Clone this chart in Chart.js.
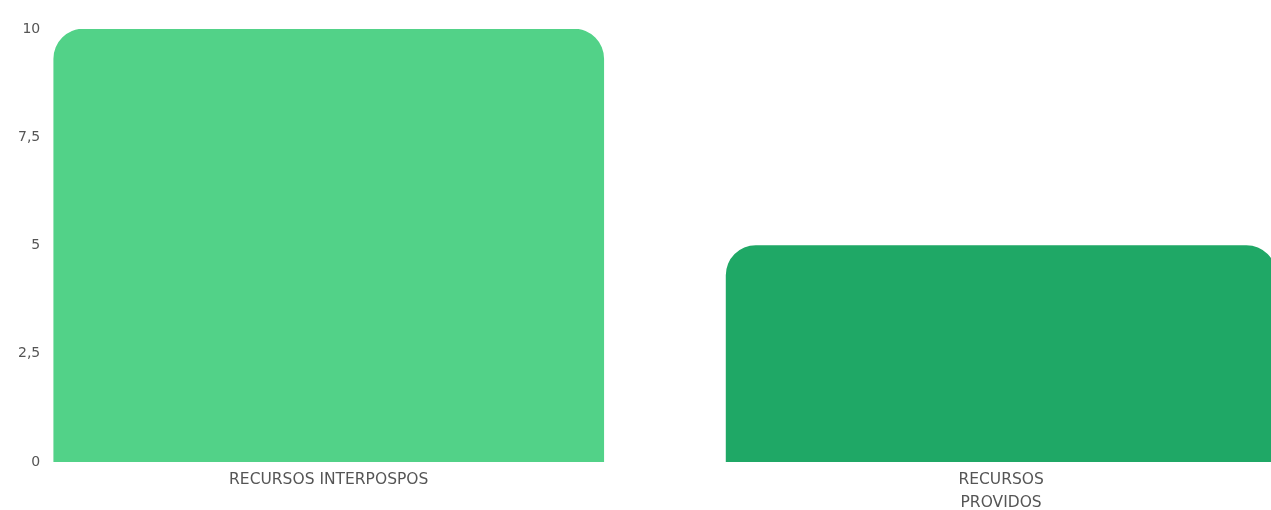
<!DOCTYPE html>
<html><head><meta charset="utf-8">
<script src="https://cdn.jsdelivr.net/npm/chart.js@4"></script>
<style>html,body{margin:0;padding:0;background:#fff;overflow:hidden}#wrap{width:1271px;height:510px}</style>
</head><body><div id="wrap"><canvas id="c"></canvas></div>
<script>
const categories = [["RECURSOS INTERPOSPOS"], ["RECURSOS", "PROVIDOS"]];
const values = [10, 5];
const barColors = ["#52d288", "#1fa866"];
const yTicks = [0, 2.5, 5, 7.5, 10];

const points = values.map((v, i) => ({x: i, y: v}));
new Chart(document.getElementById('c'), {
  type: 'bar',
  data: { datasets: [{ data: points, backgroundColor: barColors, borderWidth: 0,
    borderRadius: {topLeft: 30, topRight: 30, bottomLeft: 0, bottomRight: 0}, borderSkipped: 'bottom',
    barThickness: 550 }] },
  options: {
    responsive: true, maintainAspectRatio: false, animation: false,
    layout: { padding: { top: 29, right: 0, left: 6, bottom: 0 } },
    plugins: { legend: { display: false }, tooltip: { enabled: false } },
    scales: {
      x: { type: 'linear', min: -0.4112, max: 1.4014, offset: false,
        grid: { display: false, drawTicks: false, tickLength: 0 }, border: { display: false },
        afterBuildTicks: s => { s.ticks = categories.map((c, i) => ({value: i})); },
        afterFit: s => { s.paddingLeft = 0; s.paddingRight = 0; s.height = 48; },
        ticks: { color: '#555', font: { family: 'DejaVu Sans', size: 15.5, lineHeight: 1.5 }, padding: 6, maxRotation: 0, autoSkip: false,
          callback: v => categories[v] }
      },
      y: { min: 0, max: 10,
        grid: { display: false, drawTicks: false, tickLength: 0 }, border: { display: false },
        afterBuildTicks: s => { s.ticks = yTicks.map(v => ({value: v})); },
        ticks: { color: '#555', font: { family: 'DejaVu Sans', size: 14 }, padding: 12,
          callback: v => String(v).replace('.', ',') }
      }
    }
  }
});
</script></body></html>
